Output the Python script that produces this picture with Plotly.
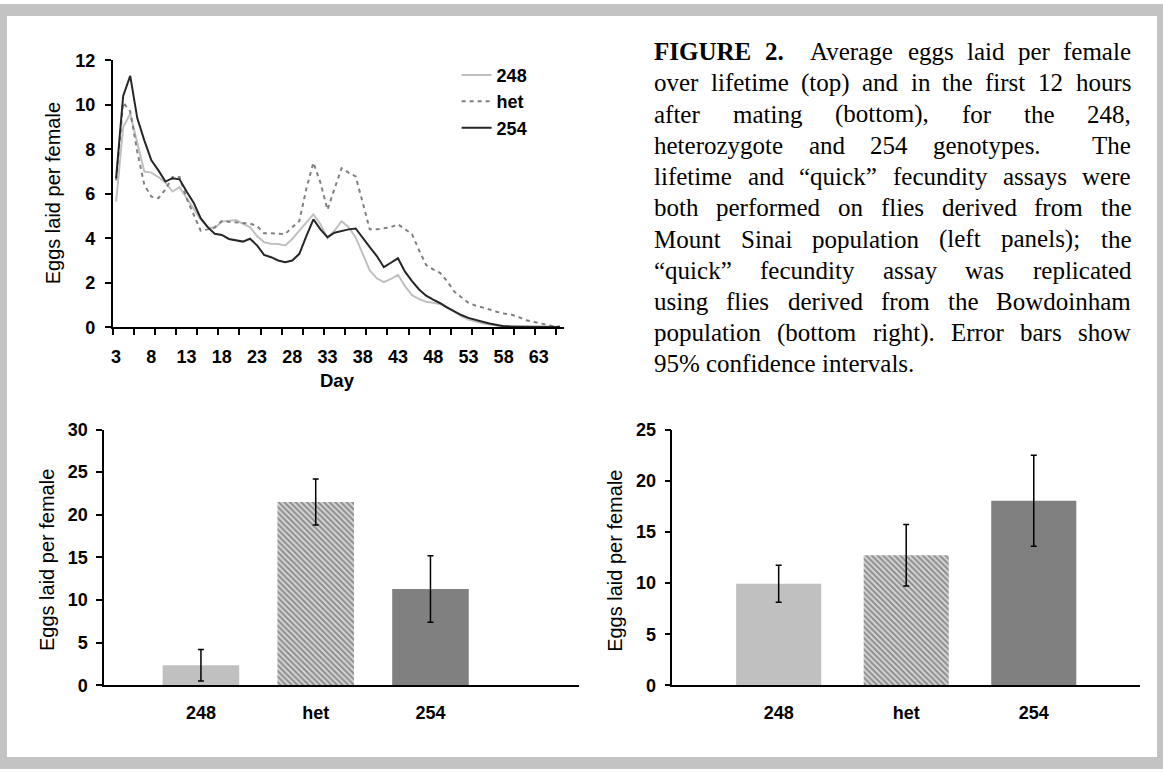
import plotly.graph_objects as go

# ---------------------------------------------------------------- data
days = list(range(3, 67))

eggs_248 = [5.65, 9.0, 9.6, 8.3, 7.0, 6.95, 6.75, 6.5, 6.1, 6.3,
            5.8, 5.35, 4.85, 4.5, 4.45, 4.75, 4.8, 4.82, 4.65, 4.5,
            4.1, 3.82, 3.75, 3.74, 3.68, 3.97, 4.34, 4.7, 5.07, 4.63,
            4.0, 4.35, 4.77, 4.5, 4.04, 3.3, 2.55, 2.2, 2.03, 2.17,
            2.36, 1.85, 1.44, 1.27, 1.15, 1.1, 1.04, 0.9, 0.7, 0.5,
            0.35, 0.25, 0.18, 0.12, 0.06, 0.03, 0.02, 0.02, 0.02, 0.01,
            0.01, 0.01, 0.01, 0.01]

eggs_het = [6.6, 10.1, 9.7, 7.9, 6.4, 5.87, 5.8, 6.2, 6.75, 6.75,
            5.8, 5.07, 4.34, 4.4, 4.5, 4.77, 4.74, 4.74, 4.7, 4.66,
            4.55, 4.22, 4.22, 4.19, 4.19, 4.5, 4.77, 6.23, 7.4, 6.5,
            5.28, 6.23, 7.15, 6.95, 6.78, 5.6, 4.4, 4.4, 4.45, 4.5,
            4.63, 4.4, 4.19, 3.46, 2.8, 2.6, 2.44, 2.07, 1.6, 1.35,
            1.1, 0.98, 0.9, 0.8, 0.7, 0.62, 0.58, 0.48, 0.33, 0.26,
            0.18, 0.1, 0.05, 0.03]

eggs_254 = [6.7, 10.4, 11.3, 9.4, 8.4, 7.5, 7.05, 6.55, 6.7, 6.65,
            6.1, 5.6, 4.9, 4.5, 4.2, 4.15, 3.97, 3.9, 3.85, 3.98,
            3.68, 3.25, 3.15, 3.0, 2.92, 3.0, 3.3, 4.1, 4.85, 4.4,
            4.05, 4.25, 4.33, 4.4, 4.44, 4.0, 3.6, 3.2, 2.7, 2.9,
            3.1, 2.5, 2.07, 1.7, 1.42, 1.24, 1.08, 0.88, 0.7, 0.55,
            0.42, 0.32, 0.25, 0.17, 0.1, 0.05, 0.04, 0.04, 0.04, 0.03,
            0.03, 0.02, 0.02, 0.01]

day_labels = list(range(3, 64, 5))

genotypes = ["248", "het", "254"]
sinai_mean = [2.35, 21.5, 11.3]
sinai_ci = [1.85, 2.7, 3.9]
bowdoin_mean = [9.93, 12.72, 18.05]
bowdoin_ci = [1.8, 3.0, 4.45]

caption_lines = [
    "FIGURE 2.  Average eggs laid per female",
    "over lifetime (top) and in the first 12 hours",
    "after mating (bottom), for the 248,",
    "heterozygote and 254 genotypes.  The",
    "lifetime and \u201cquick\u201d fecundity assays were",
    "both performed on flies derived from the",
    "Mount Sinai population (left panels); the",
    "\u201cquick\u201d fecundity assay was replicated",
    "using flies derived from the Bowdoinham",
    "population (bottom right). Error bars show",
    "95% confidence intervals.",
]

# ---------------------------------------------------------------- page geometry
W, H = 1163, 773
SANS = "Arial, Liberation Sans, sans-serif"
SERIF = "Times New Roman, Liberation Serif, serif"


def px(x):
    return x / W


def py(y):
    return 1 - y / H


fig = go.Figure()

# lifetime fecundity lines
fig.add_trace(go.Scatter(x=days, y=eggs_248, name="248", mode="lines",
                         line=dict(color="#c0c0c0", width=2),
                         xaxis="x", yaxis="y"))
fig.add_trace(go.Scatter(x=days, y=eggs_het, name="het", mode="lines",
                         line=dict(color="#808080", width=2, dash="4px,4px"),
                         xaxis="x", yaxis="y"))
fig.add_trace(go.Scatter(x=days, y=eggs_254, name="254", mode="lines",
                         line=dict(color="#262626", width=2),
                         xaxis="x", yaxis="y"))

bar_colors = ["#c0c0c0", "#d6d6d6", "#808080"]
bar_pattern = dict(shape=["", "\\", ""], fgcolor="#7a7a7a", size=4,
                   solidity=0.5, fillmode="overlay")

for means, ci, xa, ya in [(sinai_mean, sinai_ci, "x2", "y2"),
                          (bowdoin_mean, bowdoin_ci, "x3", "y3")]:
    fig.add_trace(go.Bar(
        x=genotypes, y=means, width=0.667, xaxis=xa, yaxis=ya,
        showlegend=False,
        marker=dict(color=bar_colors, line=dict(width=0), pattern=bar_pattern),
        error_y=dict(type="data", array=ci, visible=True, color="black",
                     thickness=1.5, width=3),
    ))

axis_common = dict(showline=True, linecolor="black", linewidth=1.5,
                   showgrid=False, zeroline=False, mirror=False,
                   tickfont=dict(family=SANS, size=18, color="black",
                                 weight="bold"))

# top panel
fig.update_layout(
    xaxis=dict(domain=[px(111.7), px(563)], range=[2.5, 66.5],
               anchor="y", tickmode="array", tickvals=day_labels,
               ticks="", ticklabelstandoff=12,
               minor=dict(tickmode="array",
                          tickvals=[2.5 + 3 * k for k in range(22)],
                          ticks="outside", ticklen=6, tickwidth=1.5,
                          tickcolor="black"),
               **axis_common),
    yaxis=dict(domain=[py(325.7), py(51.6)], range=[0, 12], anchor="x",
               tickmode="array", tickvals=list(range(0, 13, 2)),
               ticks="outside", ticklen=6, tickwidth=1.5, tickcolor="black",
               ticklabelstandoff=6, **axis_common),
    xaxis2=dict(domain=[px(103.3), px(578)], range=[-0.843, 3.29],
                anchor="y2", type="category", ticks="",
                ticklabelstandoff=10, **axis_common),
    yaxis2=dict(domain=[py(693.3), py(430.7)], range=[0, 30], anchor="x2",
                dtick=5, ticks="outside", ticklen=6, tickwidth=1.5,
                tickcolor="black", ticklabelstandoff=5, **axis_common),
    xaxis3=dict(domain=[px(672), px(1140)], range=[-0.833, 2.833],
                anchor="y3", type="category", ticks="",
                ticklabelstandoff=10, **axis_common),
    yaxis3=dict(domain=[py(693.3), py(430.7)], range=[0, 25], anchor="x3",
                dtick=5, ticks="outside", ticklen=6, tickwidth=1.5,
                tickcolor="black", ticklabelstandoff=5, **axis_common),
)

annotations = []


def label(text, x, y, size, bold=False, angle=0):
    annotations.append(dict(
        text=text, x=px(x), y=py(y), xref="paper", yref="paper",
        xanchor="center", yanchor="middle", showarrow=False,
        textangle=angle,
        font=dict(family=SANS, size=size, color="black",
                  weight="bold" if bold else "normal")))


label("Eggs laid per female", 51.7, 188.5, 20, angle=-90)
label("Day", 336.7, 380, 18.5, bold=True)
label("Eggs laid per female", 46.7, 565, 20, angle=-90)
label("Eggs laid per female", 615, 565, 20, angle=-90)

# caption set as justified text, word by word
TIMES = {" ": 250, "!": 333, "%": 833, "(": 333, ")": 333, ",": 250,
         "-": 333, ".": 250, ";": 278, ":": 278,
         "\u201c": 444, "\u201d": 444}
TIMES.update({d: 500 for d in "0123456789"})
TIMES.update(dict(zip("abcdefghijklmnopqrstuvwxyz",
                      [444, 500, 444, 500, 444, 333, 500, 500, 278, 278, 500,
                       278, 778, 500, 500, 500, 500, 333, 389, 278, 500, 500,
                       722, 500, 500, 444])))
TIMES.update(dict(zip("ABCDEFGHIJKLMNOPQRSTUVWXYZ",
                      [722, 667, 667, 722, 611, 556, 722, 722, 333, 389, 722,
                       611, 889, 722, 722, 556, 722, 667, 556, 611, 722, 722,
                       944, 722, 722, 611])))
TIMES_BOLD = dict(TIMES)
TIMES_BOLD.update({"F": 611, "I": 389, "G": 778, "U": 722, "R": 722,
                   "E": 667})

CAP_SIZE = 25
CAP_LEFT, CAP_RIGHT = 652.7, 1130
CAP_TOP, CAP_STEP = 42.7, 32.07


def word_width(word, bold):
    table = TIMES_BOLD if bold else TIMES
    return sum(table.get(c, 500) for c in word) * CAP_SIZE / 1000


for i, line in enumerate(caption_lines):
    yline = CAP_TOP + i * CAP_STEP
    words = line.split(" ")
    bold_flags = [i == 0 and w in ("FIGURE", "2.") for w in words]
    n_spaces = len(words) - 1
    widths = [word_width(w, b) for w, b in zip(words, bold_flags)]
    last = i == len(caption_lines) - 1
    if last or n_spaces == 0:
        gap = 250 * CAP_SIZE / 1000
    else:
        gap = (CAP_RIGHT - CAP_LEFT - sum(widths)) / n_spaces
    x = CAP_LEFT
    for w, wd, b in zip(words, widths, bold_flags):
        if w:
            annotations.append(dict(
                text=f"<b>{w}</b>" if b else w, x=px(x), y=py(yline),
                xref="paper", yref="paper", xanchor="left",
                yanchor="middle", showarrow=False, borderpad=0,
                font=dict(family=SERIF, size=CAP_SIZE, color="black")))
        x += wd + gap

fig.update_layout(
    width=W, height=H,
    margin=dict(l=0, r=0, t=0, b=0),
    paper_bgcolor="white", plot_bgcolor="white",
    showlegend=True,
    legend=dict(x=px(456), y=py(48), xanchor="left", yanchor="top",
                bgcolor="rgba(0,0,0,0)", itemwidth=30, tracegroupgap=0,
                font=dict(family=SANS, size=18, color="black",
                          weight="bold")),
    annotations=annotations,
    shapes=[dict(type="rect", xref="paper", yref="paper",
                 x0=0, x1=1, y0=0, y1=1,
                 line=dict(color="#c3c3c3", width=12))],
)

fig.write_html("out.html")
